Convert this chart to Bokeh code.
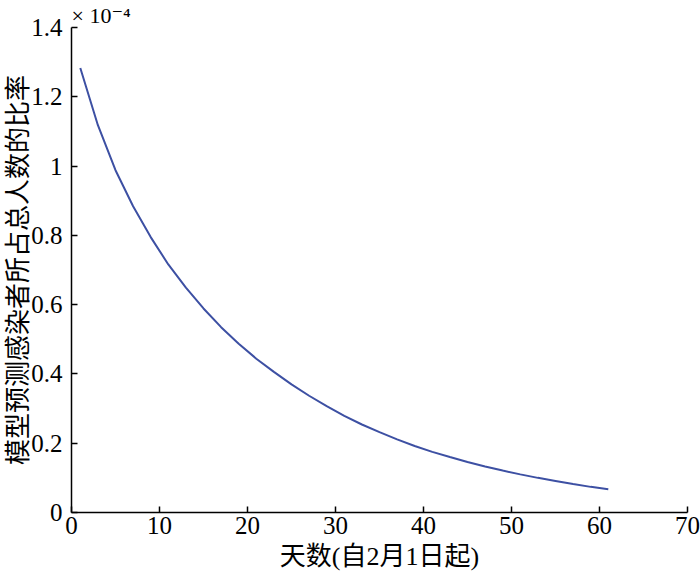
from bokeh.plotting import figure
from bokeh.models import Range1d, FixedTicker, CustomJSTickFormatter
from bokeh.embed import file_html
from bokeh.resources import INLINE

# Data (y in units of 1e-4)
days = [1, 3, 5, 7, 9, 11, 13, 15, 17, 19, 21, 23, 25, 27, 29, 31,
        33, 35, 37, 39, 41, 43, 45, 47, 49, 51, 53, 55, 57, 59, 61]
ratio_e4 = [1.283, 1.118, 0.988, 0.884, 0.795, 0.716, 0.649, 0.589, 0.535,
            0.487, 0.444, 0.406, 0.370, 0.337, 0.307, 0.279, 0.254, 0.232,
            0.211, 0.192, 0.175, 0.160, 0.146, 0.133, 0.121, 0.110, 0.100,
            0.091, 0.082, 0.074, 0.067]
x_ticks = [0, 10, 20, 30, 40, 50, 60, 70]
y_ticks = [0, 0.2, 0.4, 0.6, 0.8, 1.0, 1.2, 1.4]
x_title = "天数(自2月1日起)"
y_title = "模型预测感染者所占总人数的比率"
scale_text = "× 10⁻⁴"

SERIF = "'Liberation Serif', 'DejaVu Serif', 'Noto Sans CJK SC'"

p = figure(width=700, height=578, output_backend="svg", toolbar_location=None,
           x_range=Range1d(0, 70), y_range=Range1d(0, 1.4),
           min_border_left=71, min_border_right=13,
           min_border_top=27, min_border_bottom=66)
p.outline_line_color = None
p.xgrid.visible = False
p.ygrid.visible = False
p.background_fill_color = "white"
p.border_fill_color = "white"

p.title.text = scale_text
p.title.align = "left"
p.title.offset = 0
p.title.standoff = 0
p.title.text_font = SERIF
p.title.text_font_size = "22px"
p.title.text_font_style = "normal"
p.title.text_color = "black"

p.line(days, ratio_e4, line_color="#3d50a3", line_width=2)

for ax in (p.xaxis[0], p.yaxis[0]):
    ax.axis_line_color = "black"
    ax.axis_line_width = 1.5
    ax.major_tick_line_color = "black"
    ax.major_tick_line_width = 1.5
    ax.major_tick_in = 6
    ax.major_tick_out = 0
    ax.minor_tick_line_color = None
    ax.major_label_text_font = SERIF
    ax.major_label_text_font_size = "25px"
    ax.major_label_text_color = "black"
    ax.axis_label_text_font = SERIF
    ax.axis_label_text_font_size = "26px"
    ax.axis_label_text_font_style = "normal"
    ax.axis_label_text_color = "black"

p.xaxis.ticker = FixedTicker(ticks=x_ticks)
p.yaxis.ticker = FixedTicker(ticks=y_ticks)
p.yaxis.formatter = CustomJSTickFormatter(code="return Number(tick.toFixed(1)).toString();")
p.xaxis.major_label_standoff = 4
p.yaxis.major_label_standoff = 9
p.xaxis.axis_label = x_title
p.yaxis.axis_label = y_title
p.xaxis.axis_label_standoff = 5
p.yaxis.axis_label_standoff = -5

open("out.html", "w").write(file_html(p, INLINE))
